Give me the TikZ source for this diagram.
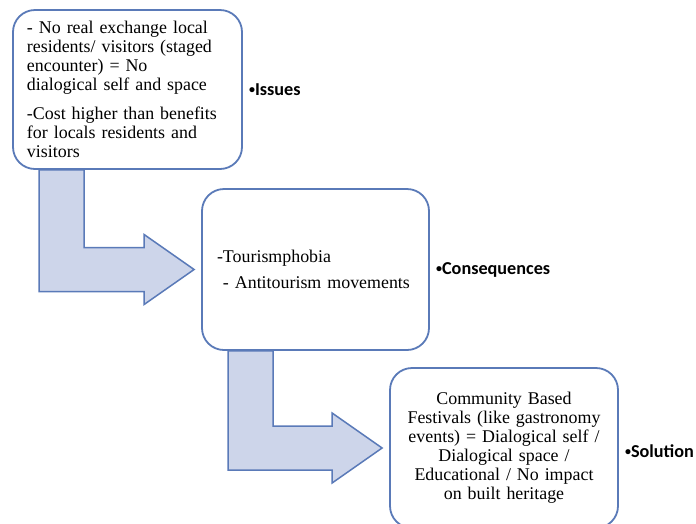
\documentclass[tikz,border=0pt]{standalone}
\usepackage{fontspec}
\setmainfont{Liberation Serif}
\newfontfamily\tagfont{Carlito}
\usetikzlibrary{calc,positioning,backgrounds}

\definecolor{boxblue}{HTML}{5A7AB8}
\definecolor{arrowfill}{HTML}{CDD5EA}

\newcommand{\tagdot}{\raisebox{1.5pt}{\fontsize{12}{12}\selectfont •}}

\tikzset{
  stagebox/.style={draw=boxblue, line width=1.8pt, rounded corners=22pt,
    fill=white, inner ysep=0pt, font=\fontsize{17.9}{19}\selectfont},
  tag/.style={anchor=west, inner sep=0pt,
    font=\tagfont\bfseries\fontsize{18.2}{20}\selectfont},
  bigarrow/.style={draw=boxblue, line width=1.5pt, fill=arrowfill}
}

% bent block arrow from the bottom of #1 to the left side of #2
\newcommand{\bendarrow}[2]{%
  \draw[bigarrow] ($(#1.south west)+(27,0)$) -- ++(45,0)
    |- ($(#2.west)+(-57,-22)$) -- ++(0,-13) -- ($(#2.west)+(-7,0)$)
    -- ++(-50,35) -- ++(0,-13) -| ($(#1.south west)+(27,0)$) -- cycle;}

\begin{document}
\begin{tikzpicture}[x=1pt,y=-1pt]
  \useasboundingbox (0,0) rectangle (696,523);

  \node[stagebox, minimum height=159pt, inner xsep=14pt, text width=201pt, align=left]
    (issues) at (127.5,89.5)
    {- No real exchange local\\ residents/ visitors (staged\\ encounter) = No\\
     dialogical self and space\\[10pt] -Cost higher than benefits\\
     for locals residents and\\ visitors};
  \node[stagebox, minimum height=161pt, inner xsep=15pt, text width=197pt, align=left]
    (conseq) at (315.5,269.5)
    {-Tourismphobia\\[7pt] \ - Antitourism movements};
  \node[stagebox, minimum height=160pt, inner xsep=10pt, text width=208pt, align=center]
    (solution) at (504,448)
    {Community Based\\ Festivals (like gastronomy\\ events) = Dialogical self /\\
     Dialogical space /\\ Educational / No impact\\ on built heritage};

  \node[tag, right=6pt of issues] (issuestag) {\tagdot Issues};
  \node[tag, right=6pt of conseq] (conseqtag) {\tagdot Consequences};
  \node[tag, right=6pt of solution, yshift=-3pt] (solutiontag) {\tagdot Solution};

  \begin{scope}[on background layer]
    \bendarrow{issues}{conseq}
    \bendarrow{conseq}{solution}
  \end{scope}
\end{tikzpicture}
\end{document}
